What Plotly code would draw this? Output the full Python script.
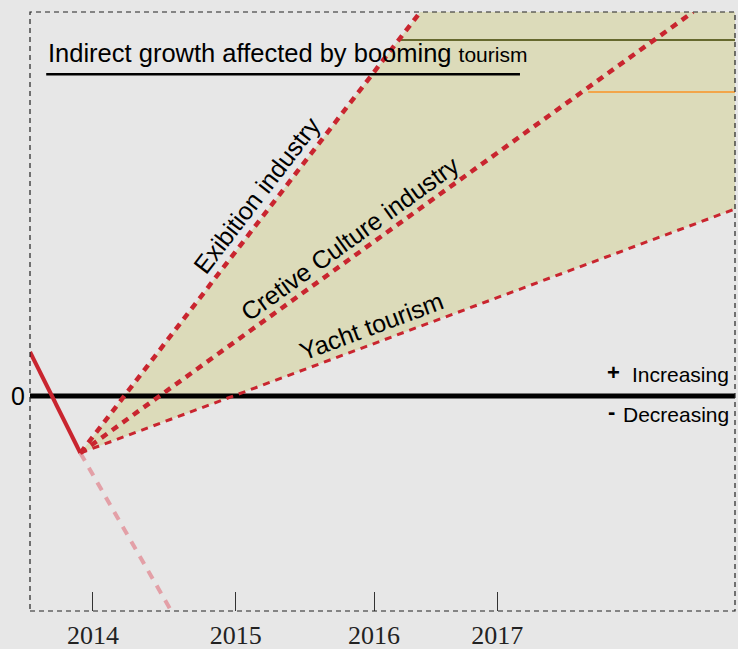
import plotly.graph_objects as go

# x in years, y as growth index (0 = no change)
decline_x = [2013.55, 2013.91]
decline_y = [0.44, -0.57]
projection_x = [2013.91, 2014.56]
projection_y = [-0.57, -2.15]

exhibition_x = [2013.91, 2016.34]
exhibition_y = [-0.57, 3.84]
creative_x = [2013.91, 2018.29]
creative_y = [-0.57, 3.84]
yacht_x = [2013.91, 2018.59]
yacht_y = [-0.57, 1.87]

band_x = [2013.91, 2016.34, 2018.59, 2018.59, 2013.91]
band_y = [-0.57, 3.84, 3.84, 1.87, -0.57]

olive_x = [2016.19, 2018.59]
olive_y = [3.56, 3.56]
orange_x = [2017.54, 2018.59]
orange_y = [3.04, 3.04]

zero_x = [2013.55, 2018.59]
zero_y = [0, 0]

tick_pos = [2014.0, 2015.02, 2016.01, 2016.89]
tick_text = ["2014", "2015", "2016", "2017"]

RED = "#c9252f"
SANS = "Liberation Sans, Arial, sans-serif"

fig = go.Figure()

# shaded growth band between exhibition and yacht lines
fig.add_trace(go.Scatter(x=band_x, y=band_y, mode="lines", fill="toself",
                         fillcolor="#dcdbba", line=dict(width=0), hoverinfo="skip"))

fig.add_trace(go.Scatter(x=olive_x, y=olive_y, mode="lines",
                         line=dict(color="#66692e", width=2)))
fig.add_trace(go.Scatter(x=orange_x, y=orange_y, mode="lines",
                         line=dict(color="#f2a54a", width=2)))

fig.add_trace(go.Scatter(x=zero_x, y=zero_y, mode="lines",
                         line=dict(color="black", width=5)))

fig.add_trace(go.Scatter(x=decline_x, y=decline_y, mode="lines",
                         line=dict(color=RED, width=4)))
fig.add_trace(go.Scatter(x=projection_x, y=projection_y, mode="lines",
                         line=dict(color="#e3a0a7", width=4, dash="9px,8px")))

fig.add_trace(go.Scatter(x=exhibition_x, y=exhibition_y, mode="lines",
                         line=dict(color=RED, width=4.5, dash="7px,6px")))
fig.add_trace(go.Scatter(x=creative_x, y=creative_y, mode="lines",
                         line=dict(color=RED, width=4.5, dash="7px,6px")))
fig.add_trace(go.Scatter(x=yacht_x, y=yacht_y, mode="lines",
                         line=dict(color=RED, width=3, dash="7px,6px")))

# labels along the fan lines
labels = [
    ("Exibition industry", 2015.17, 2.01, -52.4),
    ("Cretive Culture industry", 2015.84, 1.58, -35.8),
    ("Yacht tourism", 2015.99, 0.70, -20.4),
]
for text, lx, ly, ang in labels:
    fig.add_annotation(x=lx, y=ly, text=text, textangle=ang, showarrow=False,
                       font=dict(family=SANS, size=25, color="black"))

fig.add_annotation(xref="paper", yref="paper", x=0.022, y=0.932,
                   xanchor="left", yanchor="middle", showarrow=False,
                   text="Indirect growth affected by booming <span style='font-size:21px'>tourism</span>",
                   font=dict(family=SANS, size=25.5, color="black"))

fig.add_annotation(xref="paper", yref="y", x=0.828, y=0.24, text="<b>+</b>",
                   xanchor="center", yanchor="middle", showarrow=False,
                   font=dict(family=SANS, size=22, color="black"))
fig.add_annotation(xref="paper", yref="y", x=0.9943, y=0.22, text="Increasing",
                   xanchor="right", yanchor="middle", showarrow=False,
                   font=dict(family=SANS, size=21, color="black"))
fig.add_annotation(xref="paper", yref="y", x=0.825, y=-0.15, text="<b>-</b>",
                   xanchor="center", yanchor="middle", showarrow=False,
                   font=dict(family=SANS, size=22, color="black"))
fig.add_annotation(xref="paper", yref="y", x=0.9943, y=-0.18, text="Decreasing",
                   xanchor="right", yanchor="middle", showarrow=False,
                   font=dict(family=SANS, size=21, color="black"))

# dashed frame and title underline
fig.add_shape(type="rect", xref="paper", yref="paper", x0=0, y0=0, x1=1, y1=1,
              line=dict(color="#222222", width=1.2, dash="5px,4px"), layer="above")
fig.add_shape(type="line", xref="paper", yref="paper", x0=0.023, x1=0.695,
              y0=0.896, y1=0.896, line=dict(color="black", width=2.5))

fig.update_layout(
    width=738, height=649,
    margin=dict(l=30, r=3, t=12, b=38, autoexpand=False),
    paper_bgcolor="#e7e7e7", plot_bgcolor="#e7e7e7",
    showlegend=False,
)
fig.update_xaxes(range=[2013.55, 2018.59], tickvals=tick_pos, ticktext=tick_text,
                 ticks="inside", ticklen=19, tickcolor="#333333", tickwidth=1,
                 ticklabelstandoff=6, automargin=False,
                 showgrid=False, zeroline=False, showline=False,
                 tickfont=dict(family="Liberation Serif, Times New Roman, serif",
                               size=26, color="#222222"))
fig.update_yaxes(range=[-2.15, 3.84], tickvals=[0], ticktext=["0"], ticks="",
                 ticklabelstandoff=4, automargin=False,
                 showgrid=False, zeroline=False, showline=False,
                 tickfont=dict(family=SANS, size=25, color="black"))

fig.write_html("out.html", config={"displayModeBar": False},
               post_script="document.body.style.margin='0';")
